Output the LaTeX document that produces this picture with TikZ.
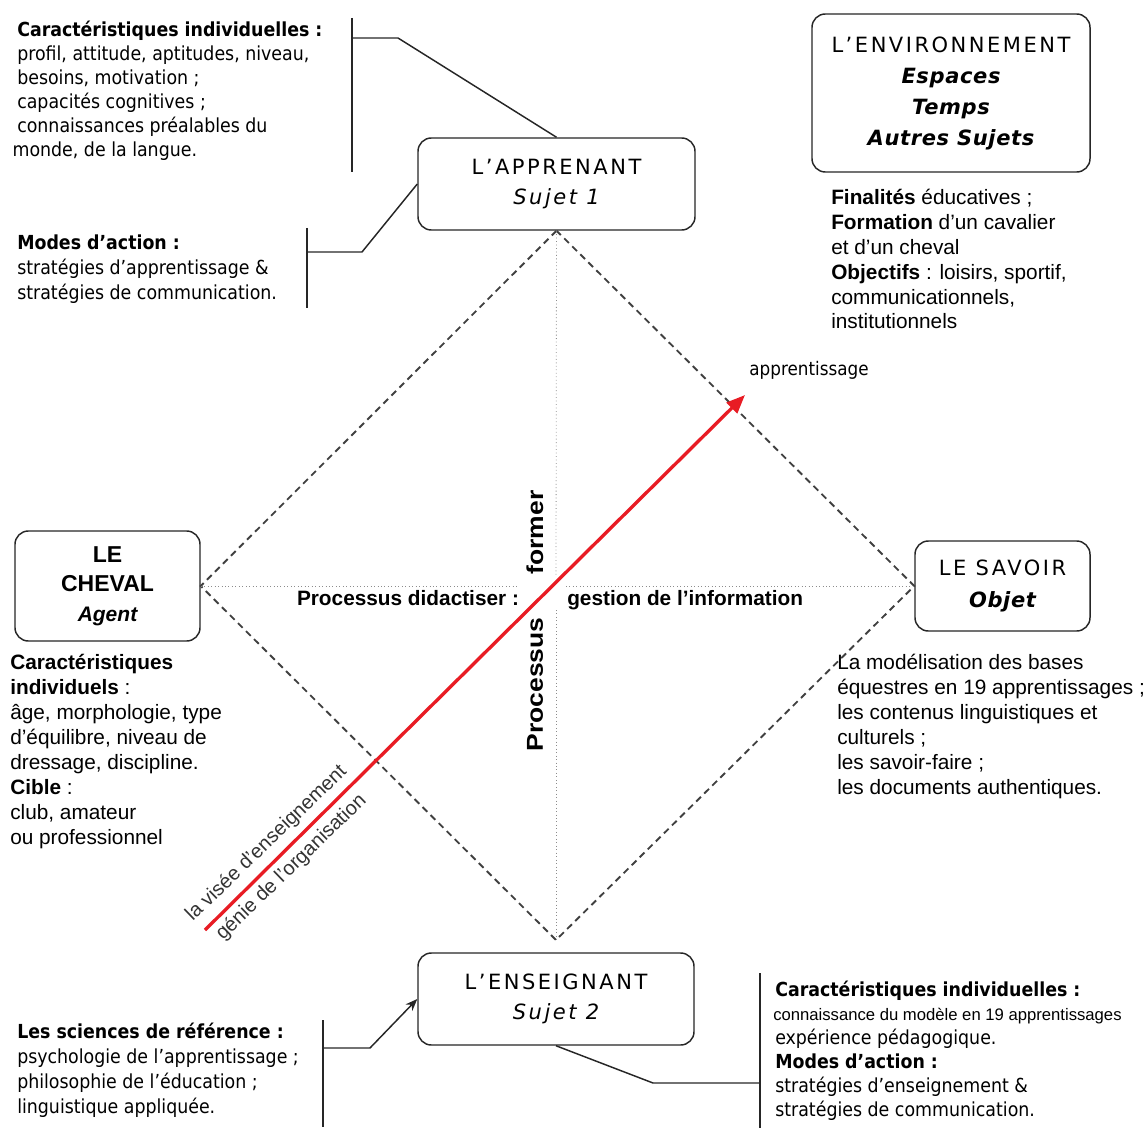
\documentclass[tikz,border=0pt]{standalone}
\usepackage{fontspec}
\usepackage{graphicx}
\setmainfont{Liberation Sans}
\newfontfamily\tah{DejaVu Sans Condensed}
\newfontfamily\boxfont[LetterSpace=12]{DejaVu Sans}
\newfontfamily\boxit[LetterSpace=3]{DejaVu Sans}
\usetikzlibrary{arrows.meta}
\definecolor{redl}{RGB}{232,28,36}
\newcommand\txtlines[1]{\begin{tabular}[t]{@{}l@{}}#1\end{tabular}}
\begin{document}
\begin{tikzpicture}[x=0.75pt,y=-0.75pt,
  box/.style={draw=black!85, line width=1.1pt, rounded corners=10pt, align=center, inner sep=0pt, fill=white},
  blk/.style={anchor=base west, inner sep=0pt},
  tahf/.style={font={\tah\fontsize{14.5pt}{18pt}\selectfont}},
  tahg/.style={font={\tah\fontsize{14.5pt}{18.75pt}\selectfont}},
  arf/.style={font={\fontsize{15.6pt}{18.75pt}\selectfont}},
  brk/.style={line width=1.1pt, draw=black!85},
  dia/.style={dash pattern=on 5pt off 3.5pt, line width=1.4pt, draw=black!75},
  dotln/.style={dotted, line width=0.6pt, draw=black!45},
]
\useasboundingbox (0,0) rectangle (1148,1130);

% boxes
\node[box, minimum width=207.75pt, minimum height=69pt, font={\boxfont\fontsize{15.75pt}{22.5pt}\selectfont}] (app) at (556.5,184) {L’APPRENANT\\\itshape Sujet 1};
\node[box, minimum width=208.5pt, minimum height=118.5pt, font={\boxfont\fontsize{15.75pt}{23.25pt}\selectfont}] (env) at (951,93) {L’ENVIRONNEMENT\\{\boxit\bfseries\itshape Espaces}\\{\boxit\bfseries\itshape Temps}\\{\boxit\bfseries\itshape Autres Sujets}};
\node[box, minimum width=138.75pt, minimum height=82.5pt, font={\bfseries\fontsize{17.25pt}{22pt}\selectfont}] (che) at (107.5,586) {LE\\CHEVAL\\{\itshape\fontsize{15.75pt}{22pt}\selectfont Agent}};
\node[box, minimum width=131.25pt, minimum height=67.5pt, font={\boxfont\fontsize{15.75pt}{24pt}\selectfont}] (sav) at (1002.5,586) {LE SAVOIR\\{\boxit\bfseries\itshape Objet}};
\node[box, minimum width=207pt, minimum height=69pt, font={\boxfont\fontsize{15.75pt}{22.5pt}\selectfont}] (ens) at (556,999) {L’ENSEIGNANT\\\itshape Sujet 2};

% diamond
\coordinate (bot) at (556,940);
\draw[dia] (app.south) -- (che.east) -- (bot) -- (sav.west) -- (app.south);

% dotted axes
\coordinate (vg1) at (556,577);
\coordinate (vg2) at (556,610);
\draw[dotln] (app.south) -- (vg1);
\draw[dotln] (vg2) -- (bot);
\coordinate (hg1) at (518,586);
\coordinate (hg2) at (566,586);
\draw[dotln] (che.east) -- (hg1);
\draw[dotln] (hg2) -- (sav.west);

% red arrow
\coordinate (rs) at (205,930);
\coordinate (re) at (745,395);
\draw[line width=2.5pt, draw=redl, -{Triangle[length=14pt,width=11pt]}] (rs) -- (re);

% labels on axes
\node[font={\bfseries\fontsize{17.25pt}{18pt}\selectfont}, rotate=90, inner sep=0pt] (proc) at (535,684.5) {\scalebox{1.15}[1]{Processus}};
\node[font={\bfseries\fontsize{17.25pt}{18pt}\selectfont}, rotate=90, inner sep=0pt] (form) at (535,532.5) {\scalebox{1.15}[1]{former}};
\node[font={\bfseries\fontsize{15.6pt}{18pt}\selectfont}, anchor=base, inner sep=0pt] (pdid) at (408,605.5) {Processus didactiser :};
\node[font={\bfseries\fontsize{15.6pt}{18pt}\selectfont}, anchor=base west, inner sep=0pt] (gest) at (567,605.5) {gestion de l’information};
\node[font={\tah\fontsize{14pt}{14pt}\selectfont}, inner sep=0pt] (appr) at (809,370) {apprentissage};
\node[font={\fontsize{15pt}{15pt}\selectfont}, text=black!80, rotate=44, inner sep=0pt] (vise) at (266.5,843.5) {la visée d’enseignement};
\node[font={\fontsize{15pt}{15pt}\selectfont}, text=black!80, rotate=44, inner sep=0pt] (genie) at (291.5,867.5) {génie de l’organisation};

% text blocks
\node[blk, tahf] (t1) at (17,36.5) {\txtlines{\textbf{Caractéristiques individuelles :}\\ profil, attitude, aptitudes, niveau,\\ besoins, motivation ;\\ capacités cognitives ;\\ connaissances préalables du\\ \hspace*{-3.5pt}monde, de la langue.}};
\node[blk, tahg] (t2) at (17,249.5) {\txtlines{\textbf{Modes d’action :}\\ stratégies d’apprentissage \&\\ stratégies de communication.}};
\node[blk, font={\fontsize{15.6pt}{18.6pt}\selectfont}] (t3) at (831,205) {\txtlines{\textbf{Finalités} éducatives ;\\ \textbf{Formation} d’un cavalier\\ et d’un cheval\\ \textbf{Objectifs} : loisirs, sportif,\\ communicationnels,\\ institutionnels}};
\node[blk, arf] (t4) at (10,669) {\txtlines{\textbf{Caractéristiques}\\ \textbf{individuels} :\\ âge, morphologie, type\\ d’équilibre, niveau de\\ dressage, discipline.\\ \textbf{Cible} :\\ club, amateur\\ ou professionnel}};
\node[blk, arf] (t5) at (837,669) {\txtlines{La modélisation des bases\\ équestres en 19 apprentissages ;\\ les contenus linguistiques et\\ culturels ;\\ les savoir-faire ;\\ les documents authentiques.}};
\node[blk, tahg] (t6) at (17,1038.5) {\txtlines{\textbf{Les sciences de référence :}\\ psychologie de l’apprentissage ;\\ philosophie de l’éducation ;\\ linguistique appliquée.}};
\node[blk, tahf] (t7) at (775,996.5) {\txtlines{\textbf{Caractéristiques individuelles :}\\ \hspace*{-1.5pt}{\rmfamily\fontsize{12.5pt}{18pt}\selectfont connaissance du modèle en 19 apprentissages}\\ expérience pédagogique.\\ \textbf{Modes d’action :}\\ stratégies d’enseignement \&\\ stratégies de communication.}};

% brackets and connectors
\coordinate (b1t) at (352,18);
\coordinate (b1b) at (352,172);
\coordinate (b1m) at (352,38);
\coordinate (b1k) at (398,38);
\draw[brk] (b1t) -- (b1b);
\draw[brk] (b1m) -- (b1k) -- (app.north);

\coordinate (b2t) at (307,228);
\coordinate (b2b) at (307,308);
\coordinate (b2m) at (307,252);
\coordinate (b2k) at (362,252);
\draw[brk] (b2t) -- (b2b);
\draw[brk] (b2m) -- (b2k) -- (app.west);

\coordinate (b3t) at (323,1020);
\coordinate (b3b) at (323,1127);
\coordinate (b3m) at (323,1048);
\coordinate (b3k) at (370,1048);
\draw[brk] (b3t) -- (b3b);
\draw[brk, -{Stealth[length=9pt,width=7pt]}] (b3m) -- (b3k) -- (ens.west);

\coordinate (b4t) at (760,973);
\coordinate (b4b) at (760,1128);
\coordinate (b4m) at (760,1083);
\coordinate (b4k) at (653,1083);
\draw[brk] (b4t) -- (b4b);
\draw[brk] (b4m) -- (b4k) -- (ens.south);
\end{tikzpicture}
\end{document}
